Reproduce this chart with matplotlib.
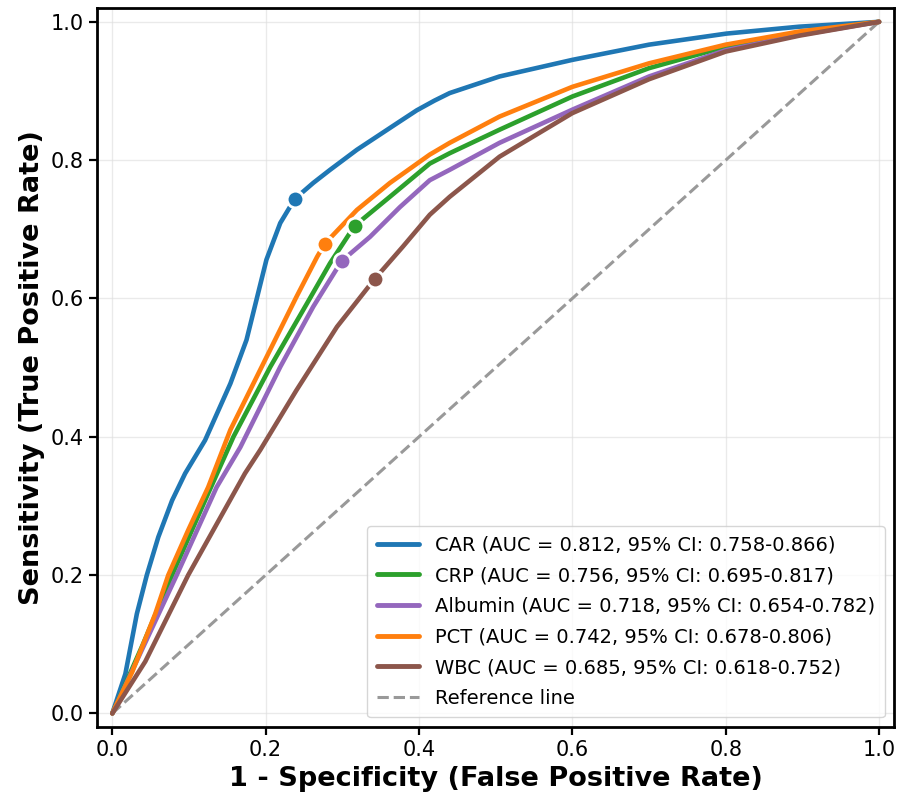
import matplotlib.pyplot as plt

# ROC curve points (FPR, TPR)
car_fpr = [0.0, 0.017, 0.032, 0.045, 0.060, 0.078, 0.095, 0.121, 0.154, 0.175, 0.188, 0.201,
           0.219, 0.238, 0.262, 0.284, 0.319, 0.375, 0.397, 0.420, 0.440, 0.505, 0.600,
           0.700, 0.801, 0.896, 1.0]
car_tpr = [0.0, 0.057, 0.144, 0.200, 0.255, 0.308, 0.347, 0.395, 0.477, 0.540, 0.598, 0.656,
           0.709, 0.744, 0.767, 0.786, 0.815, 0.856, 0.872, 0.886, 0.897, 0.921, 0.945,
           0.967, 0.983, 0.993, 1.0]

crp_fpr = [0.0, 0.040, 0.078, 0.123, 0.158, 0.206, 0.254, 0.284, 0.316, 0.362, 0.414, 0.440,
           0.505, 0.600, 0.700, 0.800, 0.896, 1.0]
crp_tpr = [0.0, 0.100, 0.200, 0.313, 0.400, 0.501, 0.593, 0.651, 0.705, 0.747, 0.795, 0.810,
           0.844, 0.892, 0.933, 0.964, 0.984, 1.0]

alb_fpr = [0.0, 0.042, 0.084, 0.136, 0.167, 0.219, 0.262, 0.299, 0.336, 0.375, 0.414, 0.440,
           0.505, 0.600, 0.700, 0.800, 0.896, 1.0]
alb_tpr = [0.0, 0.100, 0.200, 0.327, 0.385, 0.501, 0.588, 0.654, 0.689, 0.732, 0.771, 0.786,
           0.825, 0.873, 0.921, 0.959, 0.981, 1.0]

pct_fpr = [0.0, 0.026, 0.056, 0.073, 0.099, 0.125, 0.154, 0.197, 0.240, 0.267, 0.277, 0.319,
           0.362, 0.414, 0.440, 0.505, 0.600, 0.700, 0.800, 0.896, 1.0]
pct_tpr = [0.0, 0.060, 0.144, 0.200, 0.265, 0.327, 0.410, 0.506, 0.602, 0.660, 0.679, 0.728,
           0.767, 0.808, 0.825, 0.863, 0.906, 0.940, 0.967, 0.986, 1.0]

wbc_fpr = [0.0, 0.043, 0.099, 0.173, 0.193, 0.240, 0.293, 0.342, 0.379, 0.414, 0.440, 0.505,
           0.600, 0.700, 0.800, 0.896, 1.0]
wbc_tpr = [0.0, 0.075, 0.200, 0.347, 0.381, 0.467, 0.559, 0.628, 0.675, 0.721, 0.747, 0.805,
           0.868, 0.917, 0.957, 0.980, 1.0]

# optimal cut-off points
cut_fpr = [0.238, 0.316, 0.299, 0.277, 0.342]
cut_tpr = [0.744, 0.705, 0.654, 0.679, 0.628]

names = ['CAR', 'CRP', 'Albumin', 'PCT', 'WBC']
aucs = [0.812, 0.756, 0.718, 0.742, 0.685]
ci_low = [0.758, 0.695, 0.654, 0.678, 0.618]
ci_high = [0.866, 0.817, 0.782, 0.806, 0.752]
colors = ['#1f77b4', '#2ca02c', '#9467bd', '#ff7f0e', '#8c564b']

curves = [(car_fpr, car_tpr), (crp_fpr, crp_tpr), (alb_fpr, alb_tpr),
          (pct_fpr, pct_tpr), (wbc_fpr, wbc_tpr)]

fig, ax = plt.subplots(figsize=(8.98, 8), dpi=100)

for i, (fpr, tpr) in enumerate(curves):
    label = f'{names[i]} (AUC = {aucs[i]:.3f}, 95% CI: {ci_low[i]:.3f}-{ci_high[i]:.3f})'
    ax.plot(fpr, tpr, color=colors[i], lw=3.3, label=label, zorder=3,
            solid_joinstyle='round', solid_capstyle='round')

for i in range(len(names)):
    ax.plot(cut_fpr[i], cut_tpr[i], 'o', color=colors[i], markersize=12,
            markeredgecolor='white', markeredgewidth=2, zorder=5)

ax.plot([0, 1], [0, 1], '--', color='#999999', lw=2.2, label='Reference line', zorder=2)

ax.set_xlim(-0.02, 1.02)
ax.set_ylim(-0.02, 1.02)
ax.set_xticks([0, 0.2, 0.4, 0.6, 0.8, 1.0])
ax.set_yticks([0, 0.2, 0.4, 0.6, 0.8, 1.0])
ax.tick_params(labelsize=15, width=1.6, length=6)
for s in ax.spines.values():
    s.set_linewidth(2)

ax.set_xlabel('1 - Specificity (False Positive Rate)', fontsize=19.5, fontweight='bold')
ax.set_ylabel('Sensitivity (True Positive Rate)', fontsize=19.5, fontweight='bold')
ax.grid(True, color='#dddddd', alpha=0.6, lw=1)

leg = ax.legend(loc='lower right', fontsize=14, handlelength=2.2, borderpad=0.5,
                labelspacing=0.6, fancybox=True)
leg.get_frame().set_edgecolor('#cccccc')
for h in leg.get_lines()[:5]:
    h.set_linewidth(3.5)

plt.subplots_adjust(left=0.108, right=0.996, top=0.99, bottom=0.091)
plt.savefig('out.png')
